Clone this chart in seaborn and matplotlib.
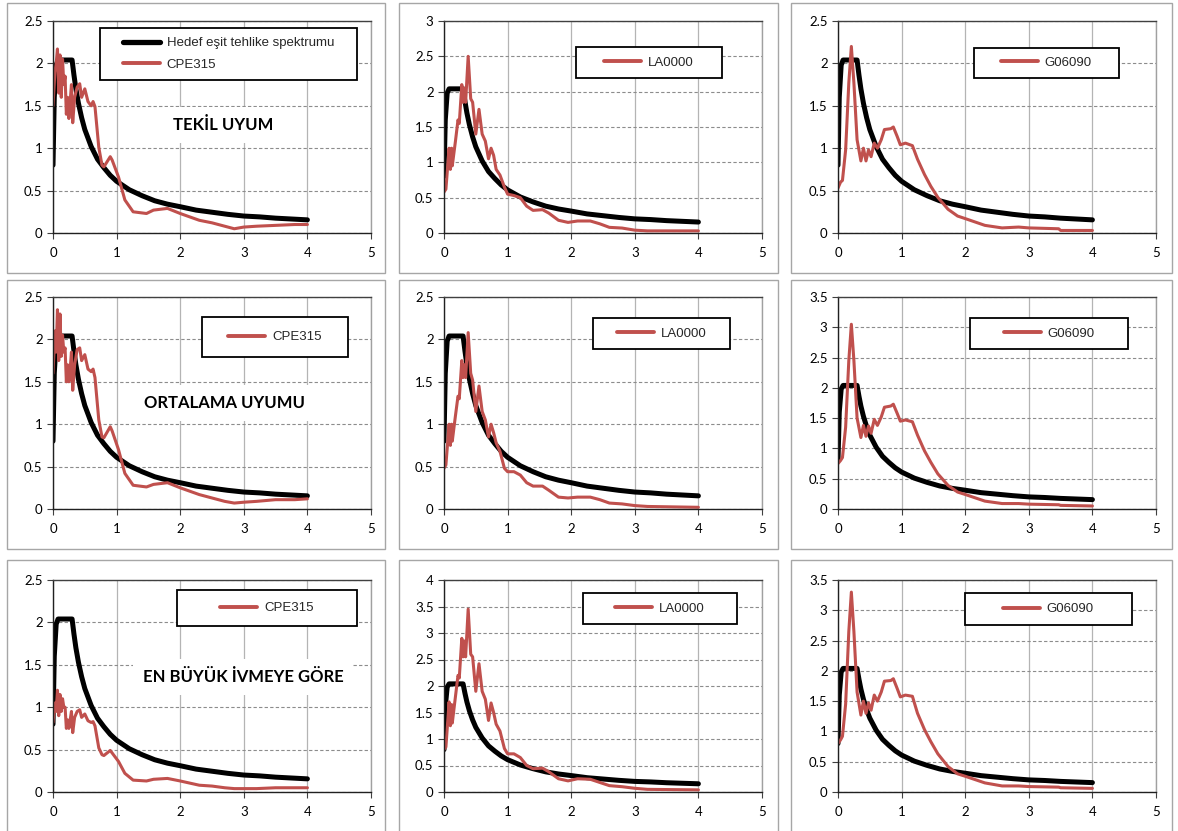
import numpy as np
import pandas as pd
import matplotlib
matplotlib.use("Agg")
import matplotlib.pyplot as plt
from matplotlib.patches import Rectangle
from matplotlib.lines import Line2D
import seaborn as sns

W, H = 1178, 831

# hedef spektrum (ayni tum paneller)
t_target = [0, 0.02, 0.05, 0.08, 0.15, 0.3, 0.33, 0.36, 0.4, 0.45, 0.5, 0.6, 0.7, 0.8, 0.9, 1.0,
            1.2, 1.4, 1.6, 1.8, 2.0, 2.25, 2.5, 2.75, 3.0, 3.25, 3.5, 3.75, 4.0]
sa_target = [0.8, 1.6, 1.98, 2.04, 2.04, 2.04, 1.86, 1.7, 1.53, 1.36, 1.22, 1.02, 0.87, 0.77, 0.68, 0.61,
             0.51, 0.44, 0.38, 0.34, 0.31, 0.27, 0.245, 0.22, 0.2, 0.19, 0.175, 0.165, 0.155]

# CPE315
t_cpe = [0, 0.03, 0.05, 0.07, 0.09, 0.11, 0.13, 0.15, 0.17, 0.19, 0.21, 0.23, 0.25, 0.27, 0.29, 0.31,
         0.34, 0.38, 0.42, 0.45, 0.5, 0.55, 0.6, 0.63, 0.66, 0.72, 0.77, 0.8, 0.9, 0.93, 1.03, 1.13,
         1.26, 1.47, 1.58, 1.8, 2.0, 2.3, 2.5, 2.7, 2.85, 3.0, 3.2, 3.5, 3.8, 4.0]
sa_cpe_tekil = [1.5, 1.9, 2.0, 2.17, 1.65, 2.1, 1.6, 2.05, 1.75, 1.85, 1.4, 1.6, 1.35, 1.55, 1.75, 1.3,
                1.6, 1.72, 1.76, 1.6, 1.7, 1.55, 1.5, 1.55, 1.49, 1.01, 0.8, 0.78, 0.9, 0.86, 0.66, 0.39,
                0.25, 0.23, 0.27, 0.29, 0.23, 0.15, 0.12, 0.08, 0.05, 0.07, 0.08, 0.09, 0.1, 0.1]
sa_cpe_ort = [1.6, 2.1, 1.85, 2.35, 1.75, 2.3, 1.8, 2.05, 1.85, 1.9, 1.5, 1.7, 1.5, 1.65, 1.85, 1.4,
              1.7, 1.88, 1.9, 1.75, 1.82, 1.65, 1.62, 1.65, 1.55, 1.05, 0.85, 0.84, 0.97, 0.92, 0.7, 0.42,
              0.28, 0.26, 0.29, 0.31, 0.25, 0.17, 0.13, 0.09, 0.07, 0.08, 0.09, 0.11, 0.11, 0.12]
sa_cpe_pga = [0.82, 1.05, 0.95, 1.2, 0.9, 1.15, 0.95, 1.1, 1.0, 1.0, 0.75, 0.85, 0.75, 0.85, 0.95, 0.7,
              0.88, 0.95, 0.97, 0.88, 0.92, 0.84, 0.82, 0.83, 0.78, 0.52, 0.44, 0.43, 0.49, 0.46, 0.36, 0.22,
              0.14, 0.13, 0.15, 0.16, 0.13, 0.08, 0.07, 0.05, 0.04, 0.04, 0.04, 0.05, 0.05, 0.05]

# LA0000
t_la = [0, 0.03, 0.08, 0.1, 0.12, 0.13, 0.18, 0.22, 0.24, 0.28, 0.3, 0.32, 0.34, 0.38, 0.42, 0.45,
        0.5, 0.55, 0.6, 0.65, 0.7, 0.74, 0.78, 0.82, 0.88, 0.95, 1.0, 1.1, 1.2, 1.3, 1.4, 1.55,
        1.65, 1.8, 1.95, 2.1, 2.3, 2.45, 2.6, 2.8, 3.0, 3.2, 4.0]
sa_la_tekil = [0.58, 0.62, 1.2, 0.9, 1.2, 0.95, 1.3, 1.6, 1.55, 2.1, 1.85, 2.05, 1.85, 2.5, 1.9, 1.85,
               1.4, 1.75, 1.4, 1.3, 1.05, 1.2, 1.1, 0.9, 0.82, 0.65, 0.55, 0.53, 0.5, 0.38, 0.32, 0.33,
               0.28, 0.18, 0.15, 0.17, 0.17, 0.13, 0.08, 0.07, 0.04, 0.03, 0.03]
sa_la_ort = [0.48, 0.52, 1.0, 0.75, 1.0, 0.8, 1.1, 1.33, 1.3, 1.75, 1.55, 1.7, 1.55, 2.08, 1.6, 1.52,
             1.15, 1.45, 1.15, 1.05, 0.85, 1.0, 0.9, 0.78, 0.68, 0.48, 0.44, 0.44, 0.4, 0.31, 0.27, 0.27,
             0.22, 0.14, 0.13, 0.14, 0.14, 0.11, 0.07, 0.06, 0.04, 0.03, 0.02]
sa_la_pga = [0.8, 0.85, 1.7, 1.25, 1.65, 1.3, 1.8, 2.2, 2.15, 2.9, 2.55, 2.85, 2.55, 3.45, 2.6, 2.55,
             1.9, 2.42, 1.9, 1.75, 1.35, 1.68, 1.5, 1.28, 1.15, 0.82, 0.72, 0.72, 0.65, 0.5, 0.44, 0.45,
             0.38, 0.25, 0.21, 0.25, 0.24, 0.18, 0.12, 0.1, 0.07, 0.05, 0.04]

# G06090
t_g = [0, 0.04, 0.07, 0.12, 0.17, 0.21, 0.25, 0.3, 0.36, 0.4, 0.44, 0.48, 0.52, 0.57, 0.62, 0.68,
       0.73, 0.83, 0.87, 0.93, 0.98, 1.06, 1.17, 1.25, 1.36, 1.46, 1.57, 1.73, 1.88, 2.0, 2.31, 2.58,
       2.84, 3.0, 3.47, 3.5, 4.0]
sa_g_tekil = [0.53, 0.6, 0.62, 0.98, 1.77, 2.2, 1.77, 1.1, 0.85, 1.0, 0.85, 0.98, 0.9, 1.06, 1.0, 1.1,
              1.22, 1.23, 1.25, 1.14, 1.04, 1.06, 1.03, 0.87, 0.69, 0.55, 0.42, 0.28, 0.2, 0.17, 0.09, 0.06,
              0.07, 0.06, 0.05, 0.03, 0.03]
sa_g_ort = [0.75, 0.8, 0.85, 1.35, 2.45, 3.05, 2.45, 1.5, 1.18, 1.38, 1.2, 1.37, 1.25, 1.48, 1.38, 1.52,
            1.68, 1.7, 1.73, 1.58, 1.45, 1.47, 1.44, 1.22, 0.96, 0.77, 0.58, 0.39, 0.28, 0.24, 0.13, 0.09,
            0.09, 0.08, 0.07, 0.06, 0.05]
sa_g_pga = [0.8, 0.86, 0.92, 1.45, 2.65, 3.3, 2.65, 1.65, 1.27, 1.5, 1.3, 1.47, 1.35, 1.6, 1.5, 1.65,
            1.83, 1.84, 1.87, 1.71, 1.57, 1.6, 1.58, 1.3, 1.03, 0.83, 0.63, 0.42, 0.3, 0.26, 0.15, 0.1,
            0.1, 0.09, 0.08, 0.07, 0.06]

target_label = "Hedef eşit tehlike spektrumu"
row_labels = ["TEKİL UYUM", "ORTALAMA UYUMU", "EN BÜYÜK İVMEYE GÖRE"]
y_max = [[2.5, 3, 2.5], [2.5, 2.5, 3.5], [2.5, 4, 3.5]]

records = [
    ("CPE315", t_cpe, [sa_cpe_tekil, sa_cpe_ort, sa_cpe_pga]),
    ("LA0000", t_la, [sa_la_tekil, sa_la_ort, sa_la_pga]),
    ("G06090", t_g, [sa_g_tekil, sa_g_ort, sa_g_pga]),
]

# layout in pixels
col_x0 = [53, 444, 838]
ax_w = 318
row_top = [21, 297, 580]
ax_h = 212
box_x = [(7, 385), (399, 778), (791, 1172)]
box_y = [(3, 273), (280, 549), (560, 845)]
leg_boxes = [
    [(100, 357, 28, 80), (576, 722, 47, 78), (974, 1119, 48, 78)],
    [(202, 348, 317, 357), (593, 730, 318, 349), (970, 1128, 318, 349)],
    [(177, 357, 590, 626), (583, 737, 593, 624), (965, 1132, 593, 625)],
]
label_pos = [(223, 125), (225, 403), (243, 677)]

RED = "#c0504d"

sns.set_style("white")
plt.rcParams["font.family"] = ["Lato", "DejaVu Sans"]

fig = plt.figure(figsize=(W / 100, H / 100), dpi=100)


def fx(px):
    return px / W


def fy(py):
    return 1 - py / H


for r in range(3):
    for c in range(3):
        bx0, bx1 = box_x[c]
        by0, by1 = box_y[r]
        fig.add_artist(Rectangle((fx(bx0), fy(by1)), fx(bx1) - fx(bx0), fy(by0) - fy(by1),
                                 transform=fig.transFigure, fill=False, edgecolor="#a6a6a6", lw=1))

        ax = fig.add_axes([fx(col_x0[c]), fy(row_top[r] + ax_h), fx(ax_w), ax_h / H])
        name, t_rec, sa_list = records[c]
        df_t = pd.DataFrame({"T": t_target, "Sa": sa_target})
        df_r = pd.DataFrame({"T": t_rec, "Sa": sa_list[r]})
        sns.lineplot(data=df_t, x="T", y="Sa", ax=ax, color="black", lw=3.6, legend=False)
        sns.lineplot(data=df_r, x="T", y="Sa", ax=ax, color=RED, lw=2.2, legend=False)

        ymax = y_max[r][c]
        ax.set_xlim(0, 5)
        ax.set_ylim(0, ymax)
        ax.set_xticks(range(6))
        yt = np.arange(0, ymax + 0.01, 0.5)
        ax.set_yticks(yt)
        ax.set_yticklabels([f"{v:g}" for v in yt])
        ax.set_xlabel("")
        ax.set_ylabel("")
        ax.set_axisbelow(True)
        ax.yaxis.grid(True, color="#8c8c8c", ls=(0, (3, 2)), lw=0.8)
        ax.xaxis.grid(True, color="#b4b4b4", ls="-", lw=0.9)
        ax.tick_params(axis="both", direction="out", length=4, width=0.8, color="#404040",
                       labelsize=9.5, left=True, bottom=True, labelcolor="black")
        ax.tick_params(axis="x", pad=6)
        for side in ["left", "bottom"]:
            ax.spines[side].set_color("#202020")
            ax.spines[side].set_linewidth(1)
        ax.spines["top"].set_color("#404040")
        ax.spines["top"].set_linewidth(1)
        ax.spines["right"].set_color("#a0a0a0")
        ax.spines["right"].set_linewidth(1)

        # legend box
        lx0, lx1, ly0, ly1 = leg_boxes[r][c]
        ax.add_patch(Rectangle((fx(lx0), fy(ly1)), fx(lx1) - fx(lx0), fy(ly0) - fy(ly1),
                               transform=fig.transFigure, facecolor="white", edgecolor="black",
                               lw=1.3, zorder=4, clip_on=False))
        handles = [Line2D([], [], color=RED, lw=2.8)]
        labels = [name]
        if r == 0 and c == 0:
            handles = [Line2D([], [], color="black", lw=3.8)] + handles
            labels = [target_label] + labels
        ax.legend(handles, labels, loc="center",
                  bbox_to_anchor=(fx((lx0 + lx1) / 2), fy((ly0 + ly1) / 2)),
                  bbox_transform=fig.transFigure, frameon=False,
                  prop={"family": "Liberation Sans", "size": 9.5},
                  handlelength=2.8, handletextpad=0.5, labelspacing=0.7, borderpad=0.2)

        if c == 0:
            px, py = label_pos[r]
            ax.text(fx(px), fy(py), row_labels[r], transform=fig.transFigure, ha="center",
                    va="center", fontsize=12, fontweight="bold", color="black", zorder=4,
                    bbox=dict(facecolor="white", edgecolor="none", pad=7))

fig.savefig("out.png", dpi=100)
